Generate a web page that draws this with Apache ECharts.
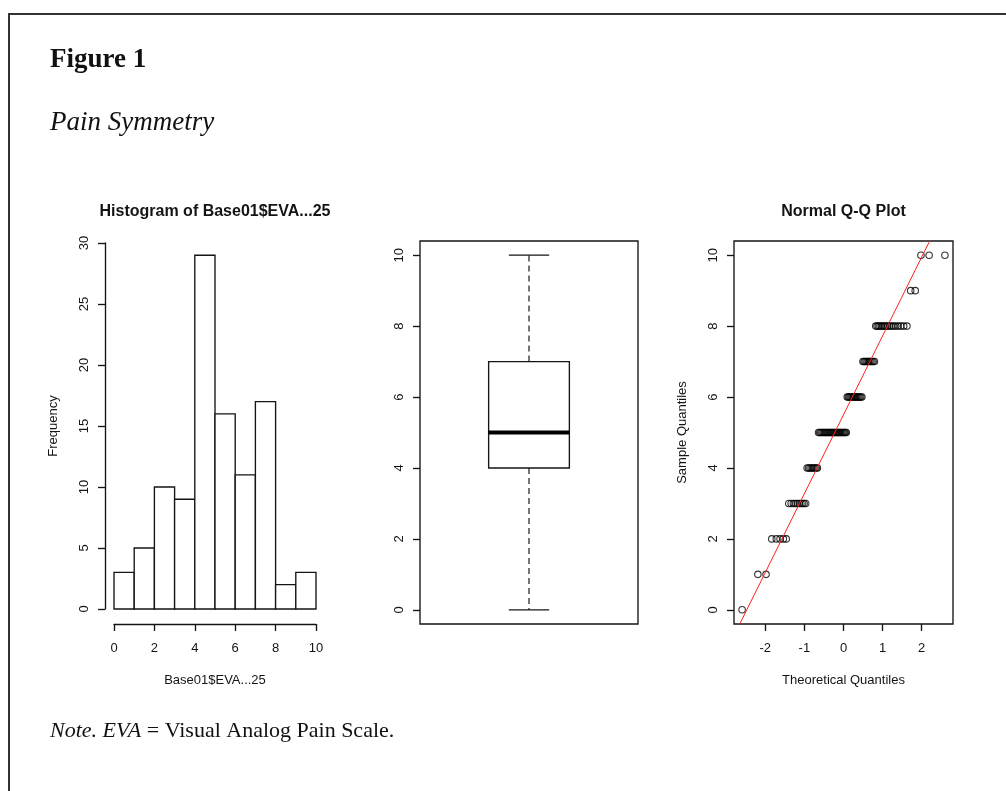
<!DOCTYPE html>
<html><head><meta charset="utf-8">
<script src="https://cdn.jsdelivr.net/npm/echarts@6/dist/echarts.min.js"></script>
<style>html,body{margin:0;padding:0;background:#fff}#c{width:1006px;height:791px}</style>
</head><body><div id="c"></div><script>
// ---- data ----
const histBreaks = [0,1,2,3,4,5,6,7,8,9,10];
const histCounts = [3,5,10,9,29,16,11,17,2,3];
// sample values and how many times each occurs (from histogram bins and Q-Q plot)
const sampleLevels = [0,1,2,3,4,5,6,7,8,9,10];
const sampleCounts = [1,2,5,10,9,29,16,11,17,2,3];
// boxplot five-number summary: min, Q1, median, Q3, max
const boxStats = [0,4,5,7,10];
// tick labels
const histXTicks = [0,2,4,6,8,10];
const histYTicks = [0,5,10,15,20,25,30];
const sampleYTicks = [0,2,4,6,8,10];
const qqXTicks = [-2,-1,0,1,2];

// ---- statistics used by R's qqnorm / qqline ----
function qnorm(p){
  const a=[-3.969683028665376e+01,2.209460984245205e+02,-2.759285104469687e+02,1.383577518672690e+02,-3.066479806614716e+01,2.506628277459239e+00];
  const b=[-5.447609879822406e+01,1.615858368580409e+02,-1.556989798598866e+02,6.680131188771972e+01,-1.328068155288572e+01];
  const c=[-7.784894002430293e-03,-3.223964580411365e-01,-2.400758277161838e+00,-2.549732539343734e+00,4.374664141464968e+00,2.938163982698783e+00];
  const d=[7.784695709041462e-03,3.224671290700398e-01,2.445134137142996e+00,3.754408661907416e+00];
  const pl=0.02425, ph=1-pl; let q,r;
  if(p<pl){q=Math.sqrt(-2*Math.log(p));return (((((c[0]*q+c[1])*q+c[2])*q+c[3])*q+c[4])*q+c[5])/((((d[0]*q+d[1])*q+d[2])*q+d[3])*q+1);}
  if(p>ph){q=Math.sqrt(-2*Math.log(1-p));return -(((((c[0]*q+c[1])*q+c[2])*q+c[3])*q+c[4])*q+c[5])/((((d[0]*q+d[1])*q+d[2])*q+d[3])*q+1);}
  q=p-0.5;r=q*q;return (((((a[0]*r+a[1])*r+a[2])*r+a[3])*r+a[4])*r+a[5])*q/(((((b[0]*r+b[1])*r+b[2])*r+b[3])*r+b[4])*r+1);
}
const sample=[];
sampleLevels.forEach((v,i)=>{for(let k=0;k<sampleCounts[i];k++)sample.push(v);});
const n=sample.length;
const qqData=sample.map((v,i)=>[qnorm((i+0.5)/n), v]);
function quantile7(arr,p){const h=(arr.length-1)*p;const lo=Math.floor(h);const hi=Math.min(lo+1,arr.length-1);return arr[lo]+(h-lo)*(arr[hi]-arr[lo]);}
const q1=quantile7(sample,0.25), q3=quantile7(sample,0.75);
const z1=qnorm(0.25), z3=qnorm(0.75);
const slope=(q3-q1)/(z3-z1), intercept=q1-slope*z1;
const qqMaxAbs=Math.max(...qqData.map(d=>Math.abs(d[0])));
const qqXLim=qqMaxAbs*1.08;
const sYMin=-0.04*10, sYMax=10+0.04*10;
const qqLine=[[-qqXLim-1, intercept+slope*(-qqXLim-1)],[qqXLim+1, intercept+slope*(qqXLim+1)]];

// ---- styling ----
const INK='#141414';
const LW=1.35;
const SANS='"Liberation Sans", Arial, sans-serif';
const SERIF='"Liberation Serif", "Times New Roman", serif';
const tickLabel={fontSize:13,color:INK,fontFamily:SANS};
const nameStyle={fontSize:13,color:INK,fontFamily:SANS};

const chart=echarts.init(document.getElementById('c'),null,{renderer:'canvas'});
chart.setOption({
  animation:false,
  backgroundColor:'#fff',
  grid:[
    {left:114,top:243,width:202,height:366},
    {left:420,top:241,width:218,height:383,show:true,borderColor:INK,borderWidth:LW,backgroundColor:'transparent'},
    {left:734,top:241,width:219,height:383,show:true,borderColor:INK,borderWidth:LW,backgroundColor:'transparent'}
  ],
  xAxis:[
    {gridIndex:0,type:'value',min:0,max:10,interval:2,offset:15,
     axisLine:{show:true,onZero:false,lineStyle:{color:INK,width:LW}},
     axisTick:{show:true,length:7,lineStyle:{color:INK,width:LW}},
     axisLabel:{...tickLabel,margin:18,customValues:histXTicks},
     splitLine:{show:false},
     name:'Base01$EVA...25',nameLocation:'middle',nameGap:50,nameTextStyle:nameStyle},
    {gridIndex:1,type:'value',min:0.46,max:1.54,show:false},
    {gridIndex:2,type:'value',min:-qqXLim,max:qqXLim,
     axisLine:{show:false,onZero:false},
     axisTick:{show:true,length:7,lineStyle:{color:INK,width:LW},customValues:qqXTicks},
     axisLabel:{...tickLabel,margin:18,customValues:qqXTicks},
     splitLine:{show:false},
     name:'Theoretical Quantiles',nameLocation:'middle',nameGap:50,nameTextStyle:nameStyle}
  ],
  yAxis:[
    {gridIndex:0,type:'value',min:0,max:30,interval:5,offset:9,
     axisLine:{show:true,onZero:false,lineStyle:{color:INK,width:LW}},
     axisTick:{show:true,length:7,lineStyle:{color:INK,width:LW}},
     axisLabel:{...tickLabel,margin:14,rotate:90,customValues:histYTicks},
     splitLine:{show:false},
     name:'Frequency',nameLocation:'middle',nameGap:45,nameRotate:90,nameTextStyle:nameStyle},
    {gridIndex:1,type:'value',min:sYMin,max:sYMax,
     axisLine:{show:false,onZero:false},
     axisTick:{show:true,length:7,lineStyle:{color:INK,width:LW},customValues:sampleYTicks},
     axisLabel:{...tickLabel,margin:14,rotate:90,customValues:sampleYTicks},
     splitLine:{show:false}},
    {gridIndex:2,type:'value',min:sYMin,max:sYMax,
     axisLine:{show:false,onZero:false},
     axisTick:{show:true,length:7,lineStyle:{color:INK,width:LW},customValues:sampleYTicks},
     axisLabel:{...tickLabel,margin:14,rotate:90,customValues:sampleYTicks},
     splitLine:{show:false},
     name:'Sample Quantiles',nameLocation:'middle',nameGap:45,nameRotate:90,nameTextStyle:nameStyle}
  ],
  series:[
    {type:'custom',xAxisIndex:0,yAxisIndex:0,
     data:histCounts.map((cnt,i)=>[histBreaks[i],histBreaks[i+1],cnt]),
     encode:{x:[0,1],y:2},
     renderItem:function(params,api){
       const p0=api.coord([api.value(0),api.value(2)]);
       const p1=api.coord([api.value(1),0]);
       return {type:'rect',shape:{x:p0[0],y:p0[1],width:p1[0]-p0[0],height:p1[1]-p0[1]},
               style:{fill:'#fff',stroke:INK,lineWidth:LW}};
     }},
    {type:'custom',xAxisIndex:1,yAxisIndex:1,
     data:[[1].concat(boxStats)],
     encode:{x:0,y:[1,2,3,4,5]},
     renderItem:function(params,api){
       const x=api.value(0),mn=api.value(1),lq=api.value(2),md=api.value(3),uq=api.value(4),mx=api.value(5);
       const hw=0.2, cw=0.1;
       const ln=(a,b,extra)=>({type:'line',shape:{x1:a[0],y1:a[1],x2:b[0],y2:b[1]},style:Object.assign({stroke:INK,lineWidth:LW},extra||{})});
       const tl=api.coord([x-hw,uq]), br=api.coord([x+hw,lq]);
       return {type:'group',children:[
         ln(api.coord([x,uq]),api.coord([x,mx]),{lineDash:[6,4],stroke:'#333'}),
         ln(api.coord([x,lq]),api.coord([x,mn]),{lineDash:[6,4],stroke:'#333'}),
         ln(api.coord([x-cw,mx]),api.coord([x+cw,mx])),
         ln(api.coord([x-cw,mn]),api.coord([x+cw,mn])),
         {type:'rect',shape:{x:tl[0],y:tl[1],width:br[0]-tl[0],height:br[1]-tl[1]},style:{fill:'#fff',stroke:INK,lineWidth:LW}},
         ln(api.coord([x-hw,md]),api.coord([x+hw,md]),{lineWidth:3.8,stroke:'#000'})
       ]};
     }},
    {type:'scatter',xAxisIndex:2,yAxisIndex:2,data:qqData,symbol:'circle',symbolSize:6.5,
     itemStyle:{color:'rgba(0,0,0,0)',borderColor:'#000',borderWidth:1.1},z:2},
    {type:'line',xAxisIndex:2,yAxisIndex:2,data:qqLine,showSymbol:false,clip:true,
     lineStyle:{color:'#ff2020',width:1},z:3}
  ],
  graphic:[
    {type:'polyline',shape:{points:[[9,791],[9,14],[1006,14]]},style:{stroke:'#333',lineWidth:2,fill:null}},
    {type:'text',left:50,top:47,style:{text:'Figure 1',font:'bold 27px '+SERIF,fill:'#111'}},
    {type:'text',left:50,top:109,style:{text:'Pain Symmetry',font:'italic 27px '+SERIF,fill:'#111'}},
    {type:'text',x:215,y:212,style:{text:'Histogram of Base01$EVA...25',font:'bold 16px '+SANS,fill:INK,align:'center',verticalAlign:'middle'}},
    {type:'text',x:843.5,y:212,style:{text:'Normal Q-Q Plot',font:'bold 16px '+SANS,fill:INK,align:'center',verticalAlign:'middle'}},
    {type:'text',left:50,top:720,style:{text:'{i|Note.} {i|EVA} = Visual Analog Pain Scale.',font:'22px '+SERIF,fill:'#111',
      rich:{i:{fontStyle:'italic',fontFamily:SERIF,fontSize:22,fill:'#111'}}}}
  ]
});
</script></body></html>
